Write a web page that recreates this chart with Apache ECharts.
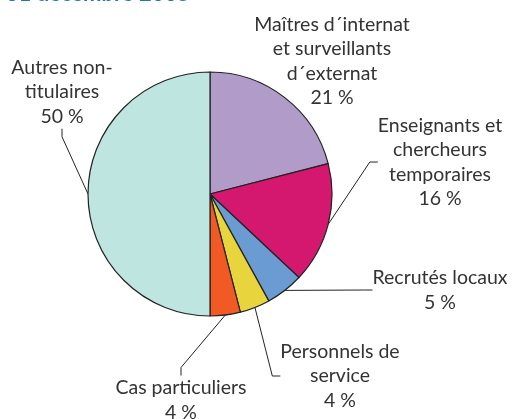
<!DOCTYPE html>
<html>
<head>
<meta charset="utf-8">
<script src="https://cdn.jsdelivr.net/npm/echarts@6/dist/echarts.min.js"></script>
<style>
  html, body { margin: 0; padding: 0; background: #fff; }
  #chart { width: 512px; height: 419px; }
</style>
</head>
<body>
<div id="chart"></div>
<script>
// categories and shares (%), clockwise from 12 o'clock
const categories = [
  'Maîtres d´internat\net surveillants\nd´externat',
  'Enseignants et\nchercheurs\ntemporaires',
  'Recrutés locaux',
  'Personnels de\nservice',
  'Cas particuliers',
  'Autres non-\ntitulaires'
]
const shares = [21, 16, 5, 4, 4, 50]
const colors = ['#b09bc9', '#d4186f', '#6a9bd2', '#e8d43c', '#f15a24', '#bfe5e1']

// where each label block sits (centre of the text block)
const labelSpots = [
  [332, 61],
  [440, 162],
  [440, 290],
  [340, 376],
  [181, 400],
  [62, 92]
]

const chart = echarts.init(document.getElementById('chart'))

chart.setOption({
  animation: false,
  textStyle: { fontFamily: 'Lato' },
  graphic: [
    {
      type: 'text',
      right: 322,
      top: -17,
      style: {
        text: '31 décembre 2005',
        font: 'bold 22px Lato',
        fill: '#1f78b4'
      }
    }
  ],
  series: [
    {
      type: 'pie',
      center: [210, 194],
      radius: 122,
      startAngle: 90,
      clockwise: true,
      avoidLabelOverlap: false,
      itemStyle: {
        borderColor: '#222',
        borderWidth: 1.2
      },
      label: {
        show: true,
        position: 'outside',
        color: '#333',
        fontSize: 19.5,
        lineHeight: 24.5,
        align: 'center',
        formatter: p => p.name + '\n' + p.value + ' %'
      },
      labelLine: {
        show: true,
        length: 20,
        length2: 8,
        lineStyle: { color: '#222', width: 1 }
      },
      labelLayout: params => {
        const spot = labelSpots[params.dataIndex]
        return {
          x: spot[0],
          y: spot[1],
          align: 'center',
          verticalAlign: 'middle'
        }
      },
      data: categories.map((name, i) => ({
        name: name,
        value: shares[i],
        itemStyle: { color: colors[i] },
        labelLine: { show: i !== 0 }
      }))
    }
  ]
})
</script>
</body>
</html>
